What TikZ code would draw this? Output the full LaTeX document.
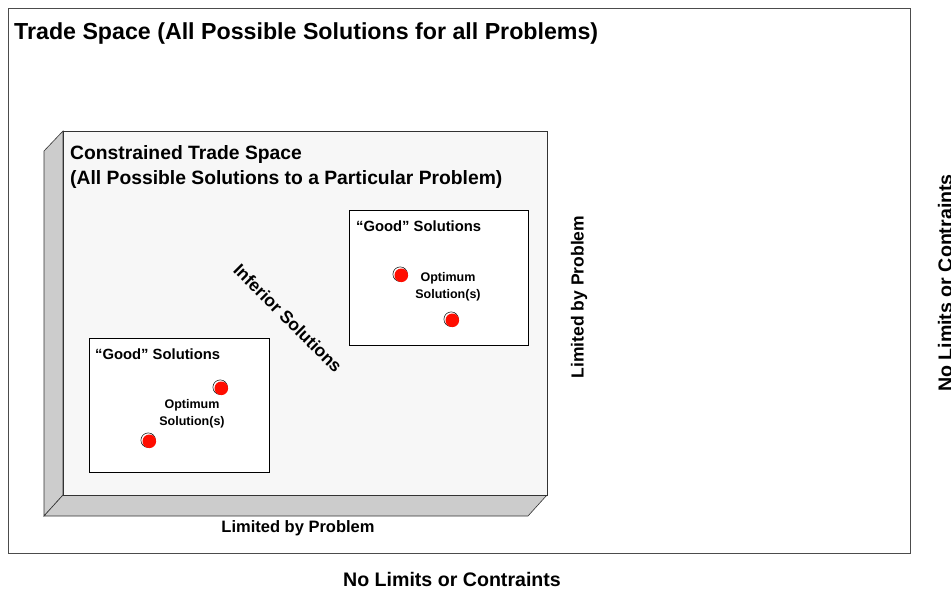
\documentclass[tikz,border=0pt]{standalone}
\usepackage{fontspec}
\setmainfont{Liberation Sans}
\begin{document}
\begin{tikzpicture}[x=1pt,y=-1pt,
  lbl/.style={font=\bfseries, inner sep=0pt, anchor=base west},
  ctr/.style={font=\bfseries, inner sep=0pt, align=center},
  goodbox/.style={draw=black, line width=0.8pt, fill=white},
  sideface/.style={draw=black!80, line width=0.6pt, fill=black!20},
]
\useasboundingbox (0,0) rectangle (951,589);
\fill[white] (0,0) rectangle (951,589);
% outer trade space
\draw[black!70, line width=0.8pt] (8,8) rectangle (910,553);
\node[lbl, font=\bfseries\fontsize{23.2}{26}\selectfont] (title) at (14,39) {Trade Space (All Possible Solutions for all Problems)};
% constrained trade space (3D)
\draw[sideface] (63,131) -- (44,151) -- (44,516) -- (63,495) -- cycle;
\draw[sideface] (63,495) -- (547,495) -- (528,516) -- (44,516) -- cycle;
\draw[black!80, line width=0.8pt, fill=black!3] (63,131) rectangle (547,495);
\node[lbl, font=\bfseries\fontsize{19.3}{22}\selectfont] (ct1) at (70,159) {Constrained Trade Space};
\node[lbl, font=\bfseries\fontsize{19.3}{22}\selectfont] (ct2) at (70,184) {(All Possible Solutions to a Particular Problem)};
% good boxes
\draw[goodbox] (349,210) rectangle (528,345);
\node[lbl, font=\bfseries\fontsize{14.8}{17}\selectfont] (g1) at (356,231) {“Good” Solutions};
\draw[goodbox] (89,338) rectangle (269,472);
\node[lbl, font=\bfseries\fontsize{14.8}{17}\selectfont] (g2) at (95,359) {“Good” Solutions};
% dots
\foreach \n/\x/\y in {d1/401/275, d2/452/320, d3/221/388, d4/149/441}{
  \draw[black, line width=0.5pt, fill=white] (\x-0.8,\y-0.8) circle (7.3);
  \fill[red!90!orange] (\x+0.3,\y+0.3) coordinate (\n) circle (6.8);
}
\node[ctr, font=\bfseries\fontsize{12.5}{17}\selectfont] (o1) at (448,287) {Optimum\\Solution(s)};
\node[ctr, font=\bfseries\fontsize{12.5}{17}\selectfont] (o2) at (192,414) {Optimum\\Solution(s)};
% inferior
\node[ctr, font=\bfseries\fontsize{17.5}{20}\selectfont, rotate=-45] (inf) at (288,318) {Inferior Solutions};
% limited by problem
\node[ctr, font=\bfseries\fontsize{16.5}{19}\selectfont] (lb) at (298,528) {Limited by Problem};
\node[ctr, font=\bfseries\fontsize{17.5}{20}\selectfont, rotate=90] (lr) at (579,297) {Limited by Problem};
% no limits
\node[ctr, font=\bfseries\fontsize{19.6}{22}\selectfont] (nb) at (452,579) {No Limits or Contraints};
\node[ctr, font=\bfseries\fontsize{19.6}{22}\selectfont, rotate=90] (nr) at (945,283) {No Limits or Contraints};
\end{tikzpicture}
\end{document}
